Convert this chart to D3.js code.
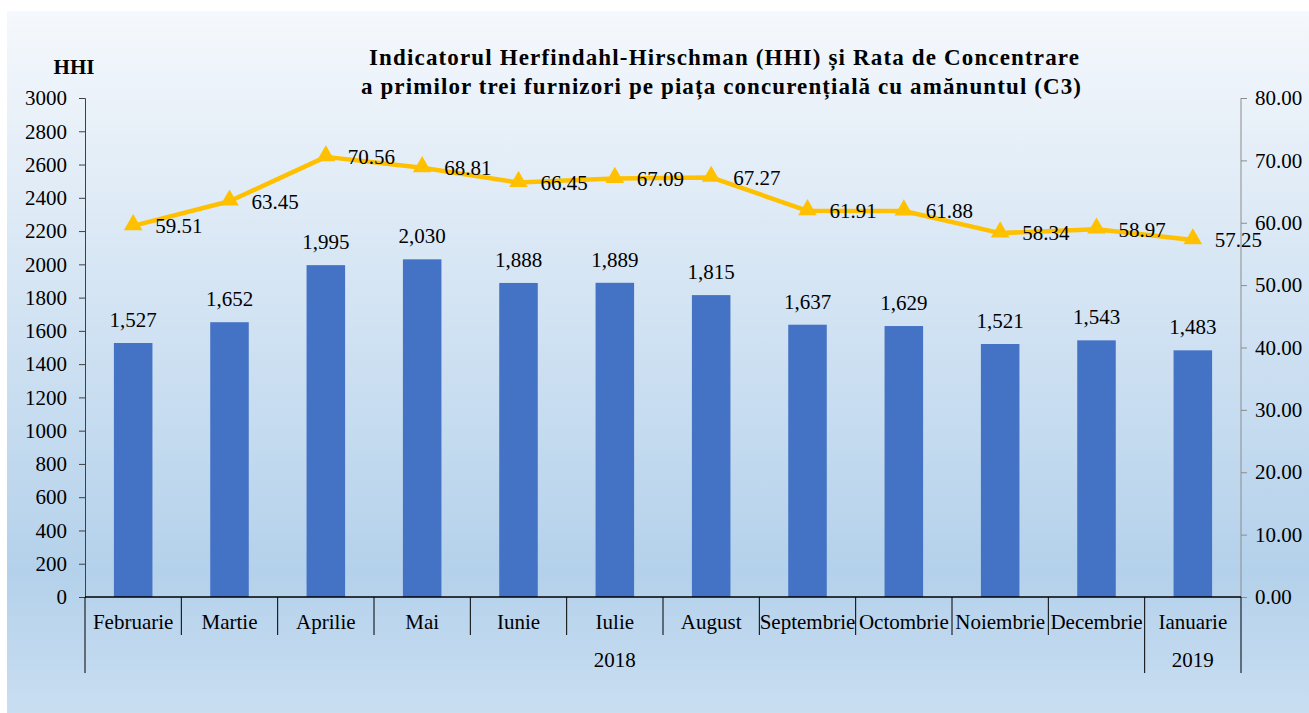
<!DOCTYPE html>
<html>
<head>
<meta charset="utf-8">
<script src="https://cdn.jsdelivr.net/npm/d3@7"></script>
<style>
  body { margin: 0; background: #fff; }
  text { font-family: "Liberation Serif", "Times New Roman", serif; fill: #000; }
</style>
</head>
<body>
<script>
// luni + ani
const months = ["Februarie","Martie","Aprilie","Mai","Iunie","Iulie","August","Septembrie","Octombrie","Noiembrie","Decembrie","Ianuarie"];
const years = [{label:"2018", from:0, to:11}, {label:"2019", from:11, to:12}];
const hhi = [1527,1652,1995,2030,1888,1889,1815,1637,1629,1521,1543,1483];
const c3 = [59.51,63.45,70.56,68.81,66.45,67.09,67.27,61.91,61.88,58.34,58.97,57.25];
const leftTicks = d3.range(0, 3001, 200);
const rightTicks = d3.range(0, 81, 10);

const W = 1309, H = 713;
const margin = {top: 98, left: 85, right: 68, bottom: 116};

let svg = d3.select("body").append("svg")
  .attr("width", W).attr("height", H);

const grad = svg.append("defs").append("linearGradient")
  .attr("id", "bg").attr("x1", 0).attr("y1", 0).attr("x2", 0).attr("y2", 1);
grad.append("stop").attr("offset", "0%").attr("stop-color", "#f5f8fc");
grad.append("stop").attr("offset", "80%").attr("stop-color", "#b4d1eb");
grad.append("stop").attr("offset", "100%").attr("stop-color", "#c9def1");

svg.append("rect").attr("x", 7).attr("y", 11).attr("width", W - 7).attr("height", H - 11)
  .attr("fill", "url(#bg)");

const x = d3.scaleBand().domain(months).range([margin.left, W - margin.right]).padding(0);
const y = d3.scaleLinear().domain([0, 3000]).range([H - margin.bottom, margin.top]);
const y2 = d3.scaleLinear().domain([0, 80]).range([H - margin.bottom, margin.top]);
const y0 = y(0);

// axe
const gl = svg.append("g").attr("transform", `translate(${margin.left},0)`)
  .call(d3.axisLeft(y).tickValues(leftTicks).tickSize(6).tickPadding(12).tickFormat(d3.format("d")));
gl.selectAll("text").style("font-size", "21px").attr("font-family", "Liberation Serif");
gl.selectAll("line,path").attr("stroke", "#404040");

const gr = svg.append("g").attr("transform", `translate(${W - margin.right},0)`)
  .call(d3.axisRight(y2).tickValues(rightTicks).tickSize(6).tickPadding(8).tickFormat(d3.format(".2f")));
gr.selectAll("text").style("font-size", "21px").attr("font-family", "Liberation Serif");
gr.selectAll("line,path").attr("stroke", "#8c8c8c");
gr.select("path").attr("d", `M0,${y2(80)}H0V${y2(0)}`);

// bare
const bw = x.bandwidth() * 0.4;
svg.selectAll("rect.bar").data(hhi).join("rect").attr("class", "bar")
  .attr("x", (d, i) => x(months[i]) + x.bandwidth() / 2 - bw / 2)
  .attr("y", d => y(d))
  .attr("width", bw)
  .attr("height", d => y0 - y(d))
  .attr("fill", "#4472c4");

svg.selectAll("text.blab").data(hhi).join("text").attr("class", "blab")
  .attr("x", (d, i) => x(months[i]) + x.bandwidth() / 2)
  .attr("y", d => y(d) - 16)
  .attr("text-anchor", "middle")
  .style("font-size", "21px")
  .text(d => d3.format(",")(d));

// axa categorii
svg.append("line").attr("x1", margin.left).attr("x2", W - margin.right)
  .attr("y1", y0).attr("y2", y0).attr("stroke", "#000").attr("stroke-width", 1.3);

const bounds = d3.range(0, 13);
svg.selectAll("line.sep").data(bounds).join("line").attr("class", "sep")
  .attr("x1", i => i < 12 ? x(months[i]) : x(months[11]) + x.bandwidth())
  .attr("x2", i => i < 12 ? x(months[i]) : x(months[11]) + x.bandwidth())
  .attr("y1", y0)
  .attr("y2", i => (i === 0 || i === 11 || i === 12) ? y0 + 76 : y0 + 38)
  .attr("stroke", "#000").attr("stroke-width", 1);

svg.selectAll("text.mlab").data(months).join("text").attr("class", "mlab")
  .attr("x", d => x(d) + x.bandwidth() / 2)
  .attr("y", y0 + 32)
  .attr("text-anchor", "middle")
  .style("font-size", "21px")
  .text(d => d);

svg.selectAll("text.ylab").data(years).join("text").attr("class", "ylab")
  .attr("x", d => (x(months[d.from]) + (d.to < 12 ? x(months[d.to]) : x(months[11]) + x.bandwidth())) / 2)
  .attr("y", y0 + 70)
  .attr("text-anchor", "middle")
  .style("font-size", "21px")
  .text(d => d.label);

// linia C3
const line = d3.line().x((d, i) => x(months[i]) + x.bandwidth() / 2).y(d => y2(d));
svg.append("path").datum(c3).attr("d", line)
  .attr("fill", "none").attr("stroke", "#ffc000").attr("stroke-width", 4.5).attr("stroke-linejoin", "round");

svg.selectAll("path.tri").data(c3).join("path").attr("class", "tri")
  .attr("d", d3.symbol().type(d3.symbolTriangle).size(150))
  .attr("transform", (d, i) => `translate(${x(months[i]) + x.bandwidth() / 2},${y2(d) - 1})`)
  .attr("fill", "#ffc000");

svg.selectAll("text.llab").data(c3).join("text").attr("class", "llab")
  .attr("x", (d, i) => x(months[i]) + x.bandwidth() / 2 + 22)
  .attr("y", d => y2(d))
  .attr("dy", "0.35em")
  .style("font-size", "21px")
  .text(d => d.toFixed(2));

// titlu
svg.append("text").attr("x", 724).attr("y", 65).attr("text-anchor", "middle")
  .style("font-size", "23px").style("font-weight", "bold")
  .attr("textLength", 710).attr("lengthAdjust", "spacing")
  .text("Indicatorul Herfindahl-Hirschman (HHI) și Rata de Concentrare");
svg.append("text").attr("x", 721).attr("y", 94).attr("text-anchor", "middle")
  .style("font-size", "23px").style("font-weight", "bold")
  .attr("textLength", 720).attr("lengthAdjust", "spacing")
  .text("a primilor trei furnizori pe piața concurențială cu amănuntul (C3)");

svg.append("text").attr("x", 74).attr("y", 74).attr("text-anchor", "middle")
  .style("font-size", "21px").style("font-weight", "bold")
  .text("HHI");
</script>
</body>
</html>
